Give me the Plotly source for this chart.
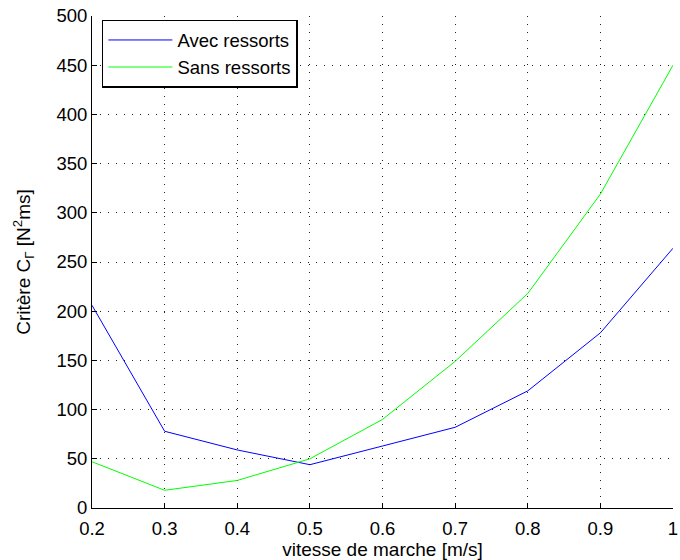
import plotly.graph_objects as go

speeds = [0.2, 0.3, 0.4, 0.5, 0.6, 0.7, 0.8, 0.9, 1.0]
avec_ressorts = [206, 78, 59, 44, 63, 82, 119, 178, 264]
sans_ressorts = [47, 18, 28, 50, 90, 149, 218, 319, 450]

x_ticks = [0.2, 0.3, 0.4, 0.5, 0.6, 0.7, 0.8, 0.9, 1.0]
x_ticklabels = ["0.2", "0.3", "0.4", "0.5", "0.6", "0.7", "0.8", "0.9", "1"]
y_ticks = [0, 50, 100, 150, 200, 250, 300, 350, 400, 450, 500]

FONT = "Liberation Sans, Arial, Helvetica, sans-serif"

fig = go.Figure()
fig.add_trace(go.Scatter(x=speeds, y=avec_ressorts, mode="lines", name="Avec ressorts",
                         line=dict(color="#0000ff", width=1)))
fig.add_trace(go.Scatter(x=speeds, y=sans_ressorts, mode="lines", name="Sans ressorts",
                         line=dict(color="#00ff00", width=1)))

axis_common = dict(
    showgrid=True, gridcolor="#222222", griddash="1px,7px", gridwidth=1,
    zeroline=False, showline=True, linecolor="black", linewidth=1,
    ticks="inside", ticklen=5, tickcolor="black",
    tickfont=dict(family=FONT, size=18.5, color="black"),
    ticklabeloverflow="allow",
)

fig.update_layout(
    width=680, height=560,
    margin=dict(l=92, r=2, t=16, b=52),
    paper_bgcolor="white", plot_bgcolor="white",
    font=dict(family=FONT, color="black"),
    xaxis=dict(range=[0.2, 1.0], tickvals=x_ticks, ticktext=x_ticklabels,
               ticklabelstandoff=4,
               title=dict(text="vitesse de marche [m/s]", font=dict(size=19), standoff=3),
               **axis_common),
    yaxis=dict(range=[0, 500], tickvals=y_ticks,
               title=dict(text="Critère C<sub>Γ</sub> [N<sup>2</sup>ms]", font=dict(size=19), standoff=20),
               **axis_common),
    legend=dict(x=0.017, y=0.992, xanchor="left", yanchor="top",
                bgcolor="white", bordercolor="black", borderwidth=1.5,
                font=dict(family=FONT, size=18.5, color="black"), tracegroupgap=0,
                itemwidth=64),
    showlegend=True,
)

fig.write_html("out.html", post_script="document.body.style.margin='0';",
               config={"displayModeBar": False})
